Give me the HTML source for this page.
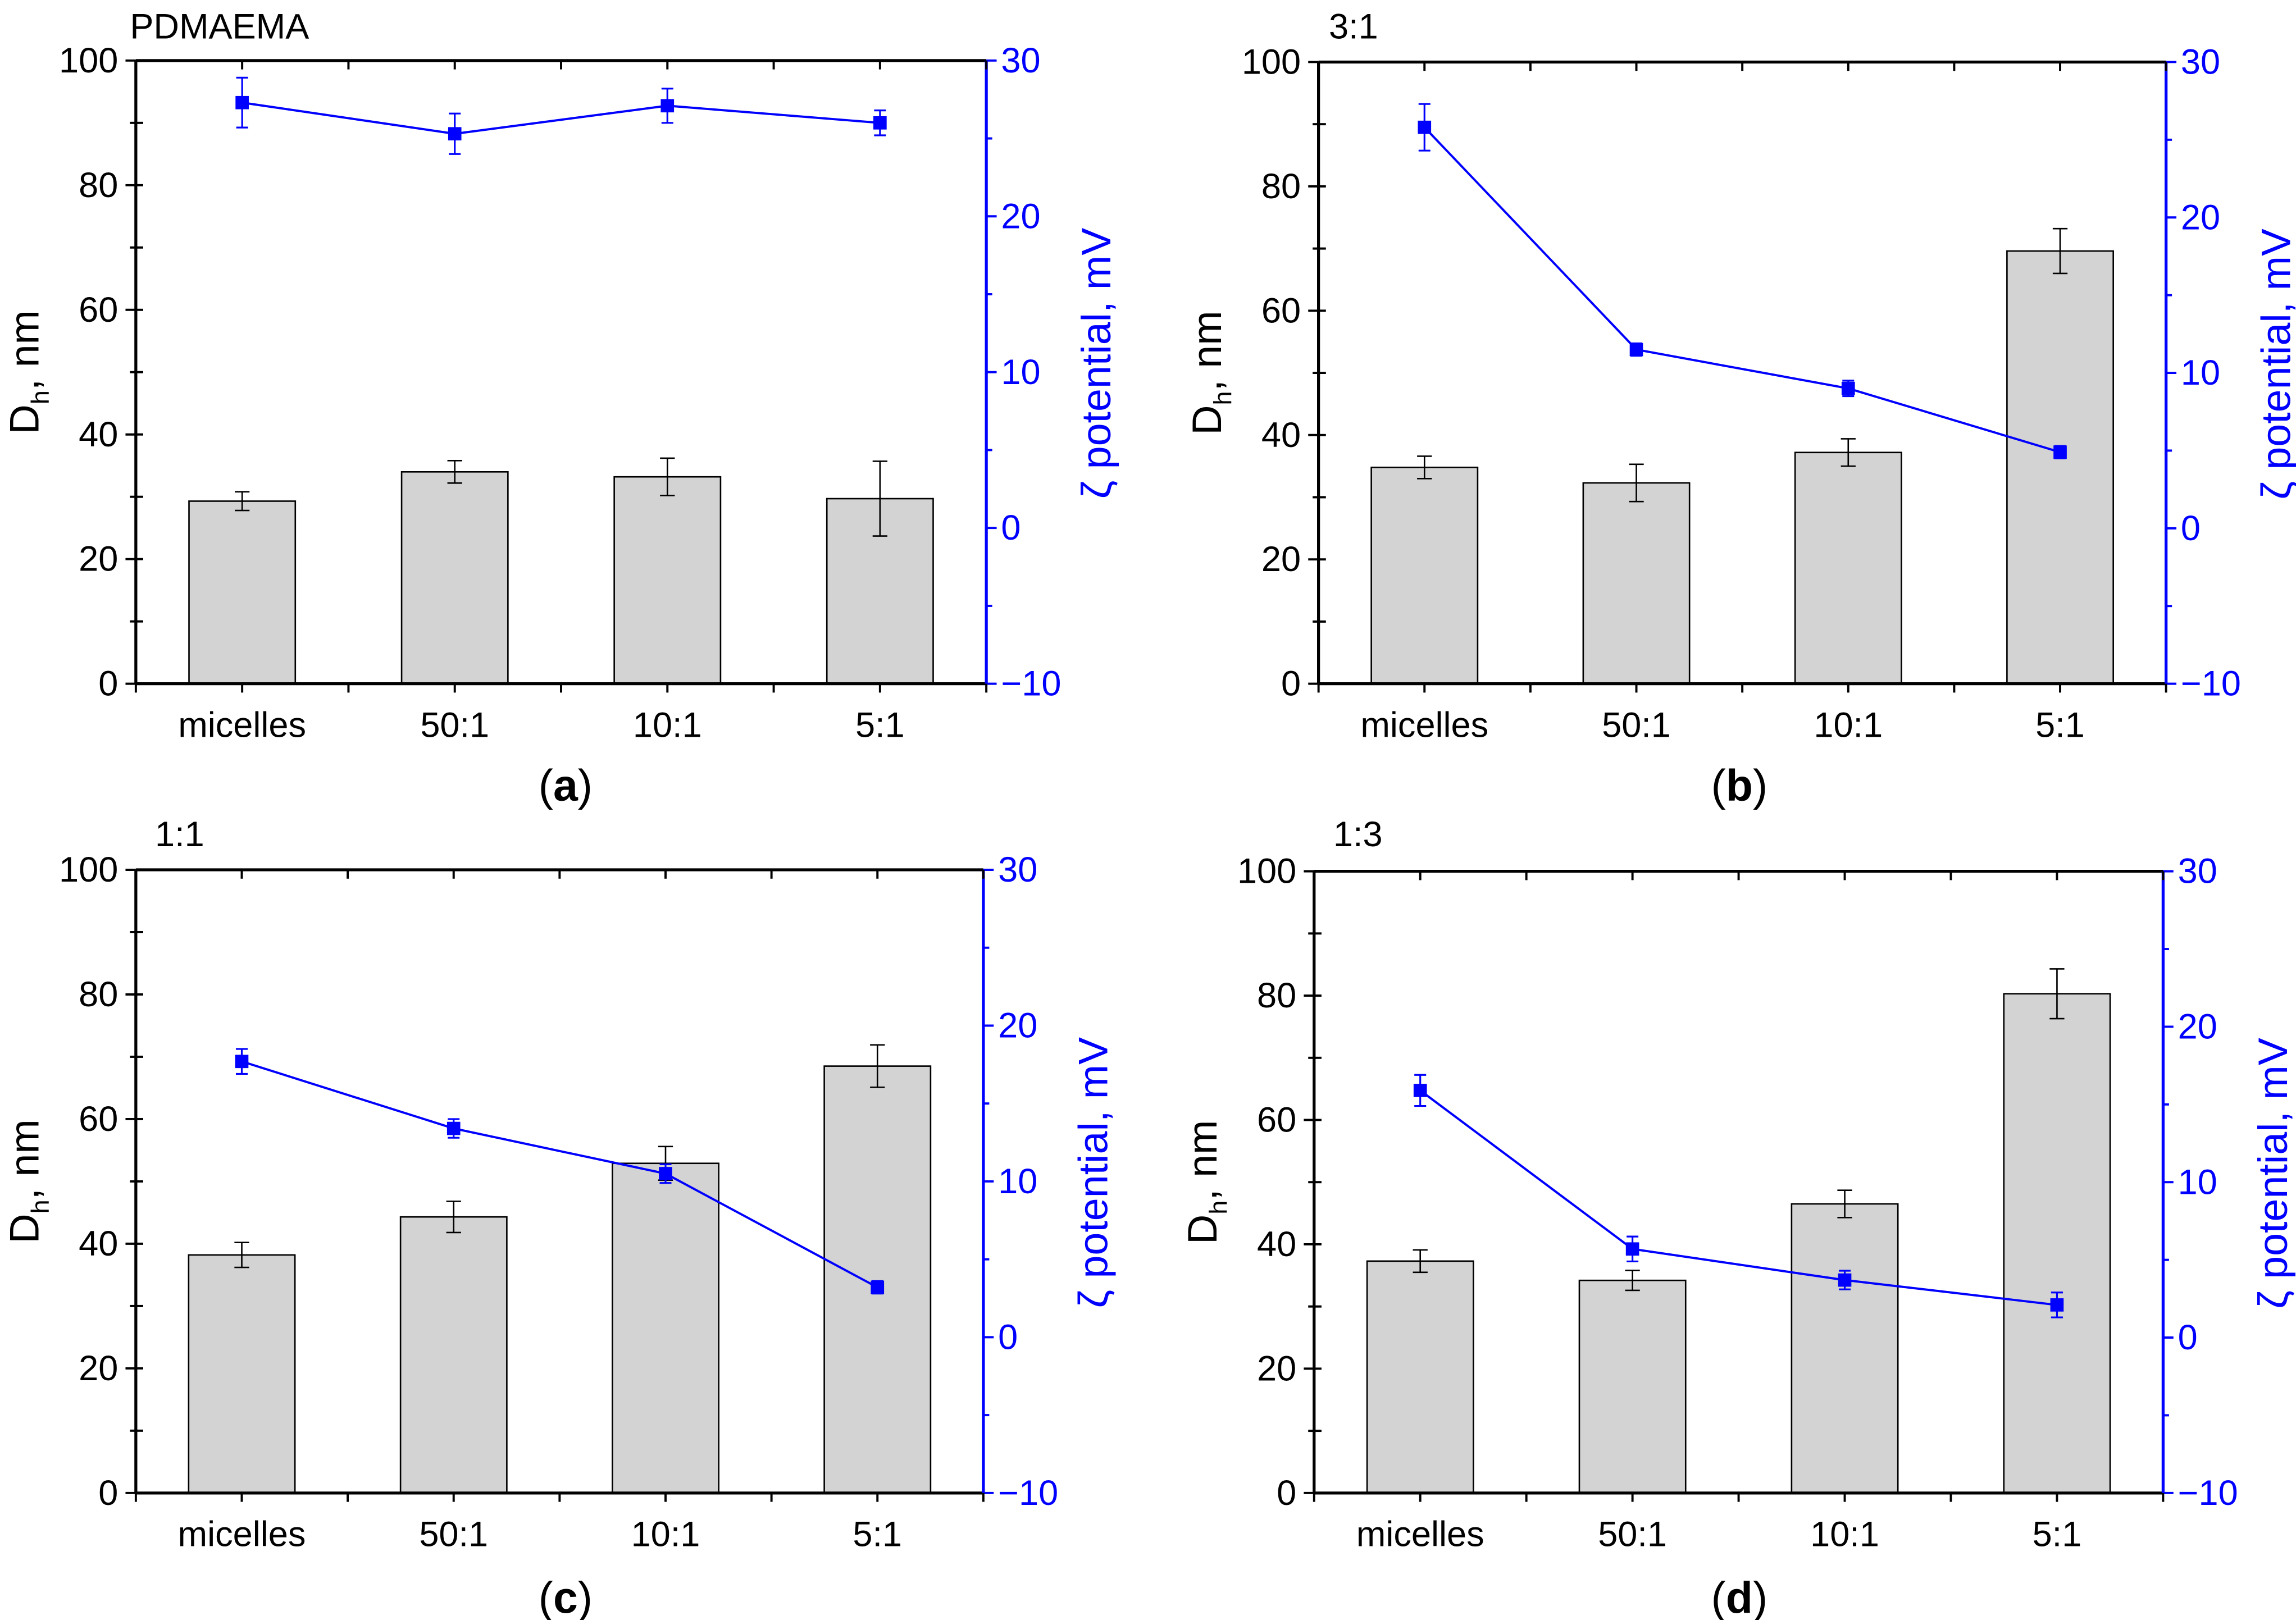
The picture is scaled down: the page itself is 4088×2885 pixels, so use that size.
<!DOCTYPE html>
<html><head><meta charset="utf-8"><style>
html,body{margin:0;padding:0;background:#fff}
svg{display:block}
text{font-family:"Liberation Sans Narrow","Liberation Sans",sans-serif}
</style></head><body>
<svg id="fig" xmlns="http://www.w3.org/2000/svg" width="4088" height="2885" viewBox="0 0 1555 1097" preserveAspectRatio="none"></svg>
<script>
const categories = ["micelles","50:1","10:1","5:1"];
const dhTicks = [0,20,40,60,80,100];
const zetaTicks = [-10,0,10,20,30];
const barsA = [29.3,34.0,33.2,29.7];
const barErrA = [1.5,1.8,3.0,6.0];
const zetaA = [27.3,25.3,27.1,26.0];
const zetaErrA = [1.6,1.3,1.1,0.8];
const barsB = [34.8,32.3,37.2,69.6];
const barErrB = [1.8,3.0,2.2,3.6];
const zetaB = [25.8,11.5,9.0,4.9];
const zetaErrB = [1.5,0.4,0.5,0.4];
const barsC = [38.2,44.3,52.9,68.5];
const barErrC = [2.0,2.5,2.7,3.4];
const zetaC = [17.7,13.4,10.5,3.2];
const zetaErrC = [0.8,0.6,0.6,0.4];
const barsD = [37.3,34.2,46.5,80.3];
const barErrD = [1.8,1.6,2.2,4.0];
const zetaD = [15.9,5.7,3.7,2.1];
const zetaErrD = [1.0,0.8,0.6,0.8];

const NS="http://www.w3.org/2000/svg";
const svg=document.getElementById('fig');
function mk(tag,attrs,parent,txt){const e=document.createElementNS(NS,tag);for(const k in attrs)e.setAttribute(k,attrs[k]);if(txt!==undefined)e.textContent=txt;(parent||svg).appendChild(e);return e;}

function panel(id,L,R,T,B,bars,barErr,zeta,zetaErr,title,tx,ty,cap,cx,cy){
  const g=mk('g',{});
  
  
  const W=R-L,H=B-T;
  const xs=i=>L+(i+0.5)*W/4;
  const yL=v=>B-v/100*H;
  const yR=v=>B-(v+10)/40*H;
  bars.forEach((v,i)=>{
    const r=mk('rect',{x:xs(i)-36,y:yL(v),width:72,height:B-yL(v),fill:'#d3d3d3',stroke:'#000','stroke-width':1},g);
    
    
    const e=barErr[i],x=xs(i);
    const eb=mk('path',{d:`M${x},${yL(v+e)}V${yL(v-e)}M${x-5},${yL(v+e)}H${x+5}M${x-5},${yL(v-e)}H${x+5}`,stroke:'#000','stroke-width':1,fill:'none'},g);
    
    
  });
  mk('path',{d:`M${L},${T}H${R}M${L},${T}V${B}M${L},${B}H${R}`,stroke:'#000','stroke-width':2,fill:'none'},g);
  mk('line',{x1:R,y1:T,x2:R,y2:B,stroke:'#0000ff','stroke-width':2},g);
  for(let v=0;v<=100;v+=10){const maj=v%20===0;
    mk('line',{x1:L-(maj?7:4),x2:L,y1:yL(v),y2:yL(v),stroke:'#000','stroke-width':1.5},g);}
  for(let v=10;v<100;v+=10){mk('line',{x1:L,x2:L+5,y1:yL(v),y2:yL(v),stroke:'#000','stroke-width':1.5},g);}
  dhTicks.forEach(v=>{const t=mk('text',{x:L-12,y:yL(v)+8,'font-size':24,'text-anchor':'end'},g,String(v));
    });
  for(let v=-10;v<=30;v+=5){const maj=v%10===0;
    mk('line',{x1:R,x2:R+(maj?7:4),y1:yR(v),y2:yR(v),stroke:'#0000ff','stroke-width':1.5},g);}
  zetaTicks.forEach(v=>{const t=mk('text',{x:R+10,y:yR(v)+8,'font-size':24,fill:'#0000ff'},g,String(v).replace('-','\u2212'));
    });
  for(let k=0;k<=8;k++){const x=L+k*W/8;
    mk('line',{x1:x,x2:x,y1:B,y2:B+6,stroke:'#000','stroke-width':1.5},g);
    mk('line',{x1:x,x2:x,y1:T,y2:T+6,stroke:'#000','stroke-width':1.5},g);}
  categories.forEach((c,i)=>{const t=mk('text',{x:xs(i),y:B+36,'font-size':24,'text-anchor':'middle'},g,c);
    });
  const pts=zeta.map((v,i)=>xs(i)+','+yR(v)).join(' ');
  const pl=mk('polyline',{points:pts,fill:'none',stroke:'#0000ff','stroke-width':1.5},g);
  
  
  zeta.forEach((v,i)=>{const x=xs(i),e=zetaErr[i];
    const eb=mk('path',{d:`M${x},${yR(v+e)}V${yR(v-e)}M${x-4},${yR(v+e)}H${x+4}M${x-4},${yR(v-e)}H${x+4}`,stroke:'#0000ff','stroke-width':1.2,fill:'none'},g);
    
    
    const m=mk('rect',{x:x-4.5,y:yR(v)-4.5,width:9,height:9,fill:'#0000ff'},g);
    
    
  });
  const yc=(T+B)/2;
  const yt=mk('text',{x:0,y:0,'font-size':28,'text-anchor':'middle',transform:`translate(${L-66},${yc}) rotate(-90)`},g);
  
  mk('tspan',{},yt,'D');mk('tspan',{'font-size':17,dy:7},yt,'h');mk('tspan',{dy:-7},yt,', nm');
  const rt=mk('text',{x:0,y:0,'font-size':28,'text-anchor':'middle',fill:'#0000ff',transform:`translate(${R+84},${yc-6}) rotate(-90)`},g,'\u03B6 potential, mV');
  
  const tt=mk('text',{x:tx,y:ty,'font-size':24},g,title);
  
  const ct=mk('text',{x:cx,y:cy,'font-size':30,'text-anchor':'middle','font-family':'"Liberation Serif",serif'},g);
  
  mk('tspan',{},ct,'(');mk('tspan',{'font-weight':'bold'},ct,cap);mk('tspan',{},ct,')');
}
panel('a',92,668,41,463,barsA,barErrA,zetaA,zetaErrA,'PDMAEMA',88,26,'a',383,542);
panel('b',893,1467,42,463,barsB,barErrB,zetaB,zetaErrB,'3:1',900,26,'b',1178,542);
panel('c',92,666,589,1011,barsC,barErrC,zetaC,zetaErrC,'1:1',105,573,'c',383,1092);
panel('d',890,1465,590,1011,barsD,barErrD,zetaD,zetaErrD,'1:3',903,573,'d',1178,1092);
</script>
</body></html>
